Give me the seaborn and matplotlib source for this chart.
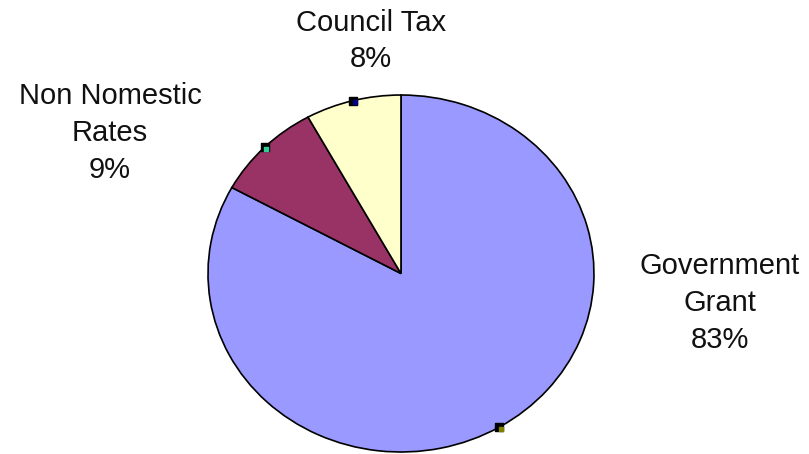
import numpy as np
import matplotlib
matplotlib.use("Agg")
import matplotlib.pyplot as plt
import seaborn as sns

# Slices, clockwise from 12 o'clock
labels = ["Government\nGrant", "Non Nomestic\nRates", "Council Tax"]
shares = [83, 9, 8]
colors = ["#9999FF", "#993366", "#FFFFCC"]
key_colors = ["#808000", "#33CC99", "#000080"]

sns.set_style("white")
plt.rcParams['font.family'] = ['Liberation Sans', 'DejaVu Sans']

fig = plt.figure(figsize=(8.09, 4.54), dpi=100)
# axes sized so the pie becomes the same ellipse as the original
ax = fig.add_axes([0.2571, 0.0044, 0.4771, 0.7863])
wedges, _ = ax.pie(shares, colors=colors, startangle=90, counterclock=False,
                   radius=1, wedgeprops=dict(edgecolor="black", linewidth=1.2))
ax.set_aspect("auto")
ax.set_xlim(-1, 1)
ax.set_ylim(-1, 1)
ax.axis("off")

# little legend-key squares at the middle of each slice's arc
for w, kc in zip(wedges, key_colors):
    mid = np.deg2rad((w.theta1 + w.theta2) / 2)
    x, y = np.cos(mid), np.sin(mid)
    ax.scatter([x], [y], marker="s", s=30, color="black", zorder=5, clip_on=False)
    ax.scatter([x + 0.01], [y - 0.01], marker="s", s=12, color=kc, zorder=6, clip_on=False)

# data labels placed as in the original
label_pos = [(720, 303), (110, 133), (371, 41)]
for lab, sh, (px, py) in zip(labels, shares, label_pos):
    fig.text(px / 809, 1 - py / 454, f"{lab}\n{sh}%", ha="center", va="center",
             fontsize=21, linespacing=1.4, color="#111111")

fig.savefig("out.png", dpi=100)
